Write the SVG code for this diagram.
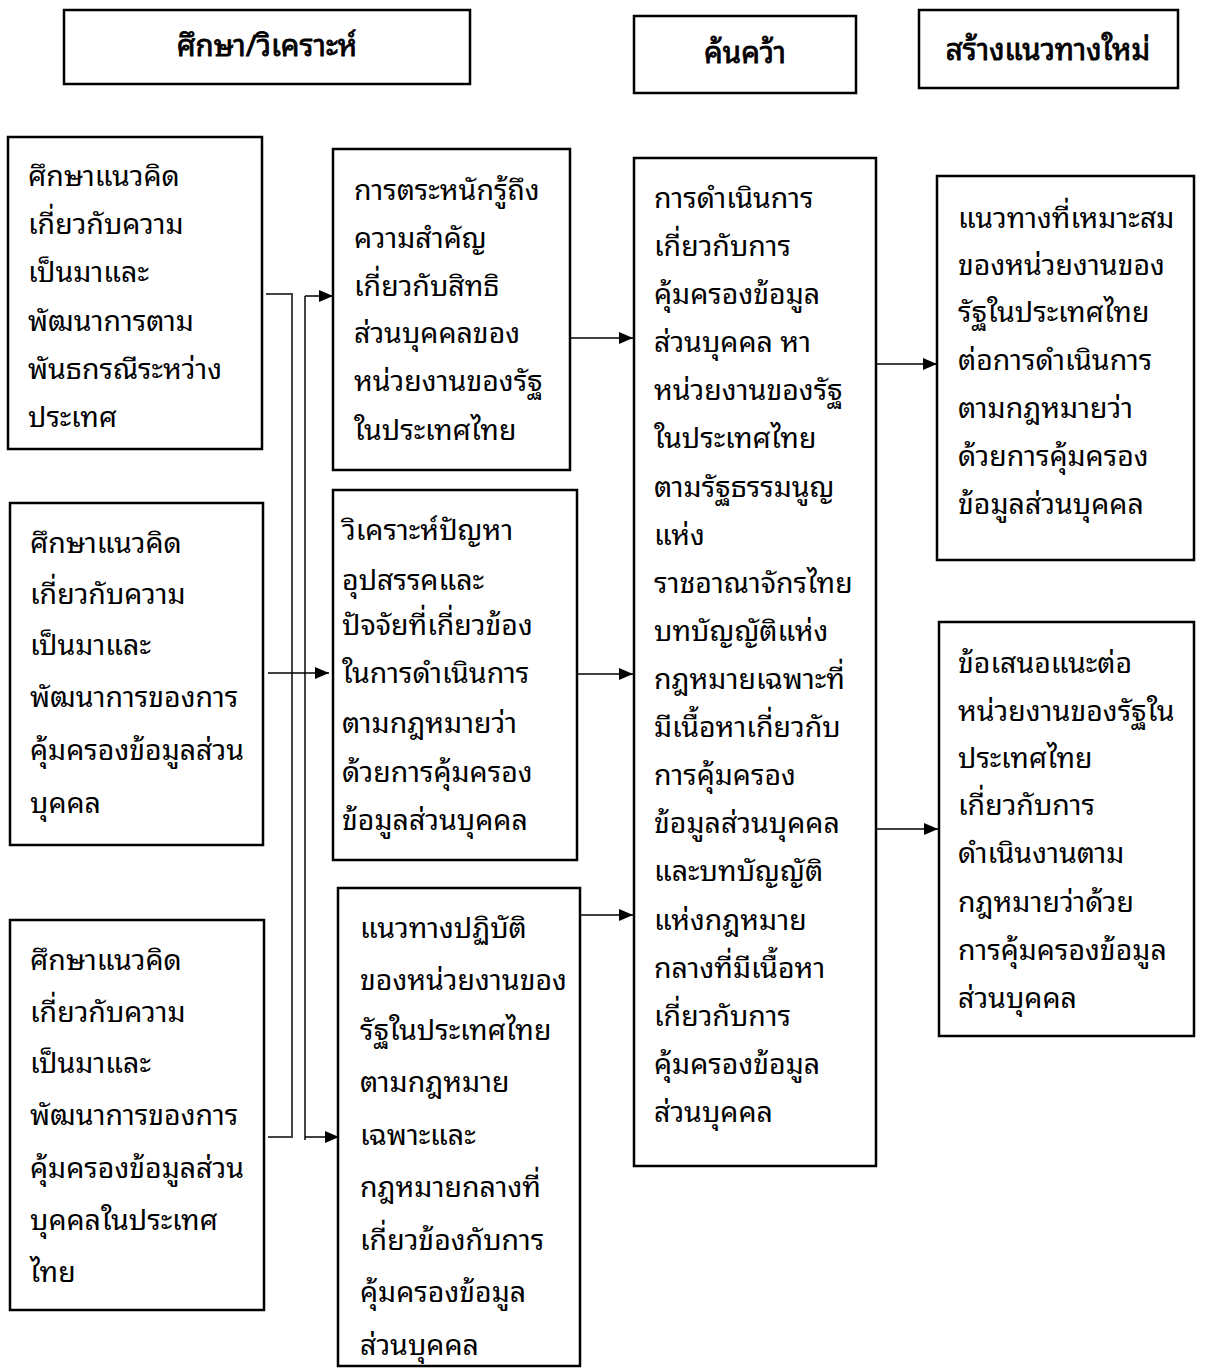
<svg xmlns="http://www.w3.org/2000/svg" width="1208" height="1370" viewBox="0 0 1208 1370">
<style>
.box{fill:#fff;stroke:#000;stroke-width:2.5}
.t{font-family:"Noto Sans Thai Looped","Noto Serif Thai","Loma","Garuda","Tlwg Typo","Noto Sans Thai","Noto Sans",sans-serif;font-size:28.5px;fill:#000}
.h{font-family:"Noto Sans Thai Looped","Noto Serif Thai","Loma","Garuda","Tlwg Typo","Noto Sans Thai","Noto Sans",sans-serif;font-size:29.5px;font-weight:normal;fill:#000;stroke:#000;stroke-width:0.8;text-anchor:middle}
.ln{fill:none;stroke:#000;stroke-width:1.5}
.ln2{fill:none;stroke:#444;stroke-width:2}
</style>
<defs>
<marker id="ar" markerWidth="14" markerHeight="12" refX="14" refY="6" orient="auto" markerUnits="userSpaceOnUse">
<path d="M0,0 L14,6 L0,12 Z" fill="#000"/>
</marker>
</defs>
<rect width="1208" height="1370" fill="#fff"/>
<g id="h1"><rect class="box" x="64" y="10" width="406" height="74"/><text class="h" x="267" y="56">ศึกษา/วิเคราะห์</text></g>
<g id="h2"><rect class="box" x="634" y="16" width="222" height="77"/><text class="h" x="745" y="63">ค้นคว้า</text></g>
<g id="h3"><rect class="box" x="919" y="10" width="259" height="78"/><text class="h" x="1048" y="60">สร้างแนวทางใหม่</text></g>

<g id="connectors">
<path class="ln2" d="M266,294 H292 V1137 H268"/>
<path class="ln2" d="M305,1140 V296"/>
<path class="ln" d="M305,296 H333" marker-end="url(#ar)"/>
<path class="ln" d="M268,673 H329" marker-end="url(#ar)"/>
<path class="ln" d="M305,1137 H339" marker-end="url(#ar)"/>
<path class="ln" d="M571,338 H633" marker-end="url(#ar)"/>
<path class="ln" d="M577,674 H633" marker-end="url(#ar)"/>
<path class="ln" d="M573,915 H633" marker-end="url(#ar)"/>
<path class="ln" d="M876,364 H937" marker-end="url(#ar)"/>
<path class="ln" d="M876,829 H938" marker-end="url(#ar)"/>
</g>

<g id="a1"><rect class="box" x="8" y="137" width="254" height="312"/>
<text class="t"><tspan x="28" y="186">ศึกษาแนวคิด</tspan><tspan x="28" y="234">เกี่ยวกับความ</tspan><tspan x="28" y="282">เป็นมาและ</tspan><tspan x="28" y="331">พัฒนาการตาม</tspan><tspan x="28" y="379">พันธกรณีระหว่าง</tspan><tspan x="28" y="427">ประเทศ</tspan></text></g>

<g id="a2"><rect class="box" x="10" y="503" width="253" height="342"/>
<text class="t"><tspan x="30" y="553">ศึกษาแนวคิด</tspan><tspan x="30" y="604">เกี่ยวกับความ</tspan><tspan x="30" y="655">เป็นมาและ</tspan><tspan x="30" y="707">พัฒนาการของการ</tspan><tspan x="30" y="760">คุ้มครองข้อมูลส่วน</tspan><tspan x="30" y="813">บุคคล</tspan></text></g>

<g id="a3"><rect class="box" x="10" y="920" width="254" height="390"/>
<text class="t"><tspan x="30" y="970">ศึกษาแนวคิด</tspan><tspan x="30" y="1022">เกี่ยวกับความ</tspan><tspan x="30" y="1073">เป็นมาและ</tspan><tspan x="30" y="1125">พัฒนาการของการ</tspan><tspan x="30" y="1178">คุ้มครองข้อมูลส่วน</tspan><tspan x="30" y="1230">บุคคลในประเทศ</tspan><tspan x="30" y="1282">ไทย</tspan></text></g>

<g id="m1"><rect class="box" x="333" y="149" width="237" height="321"/>
<text class="t"><tspan x="354" y="200">การตระหนักรู้ถึง</tspan><tspan x="354" y="248">ความสำคัญ</tspan><tspan x="354" y="296">เกี่ยวกับสิทธิ</tspan><tspan x="354" y="343">ส่วนบุคคลของ</tspan><tspan x="354" y="391">หน่วยงานของรัฐ</tspan><tspan x="354" y="440">ในประเทศไทย</tspan></text></g>

<g id="m2"><rect class="box" x="333" y="490" width="244" height="370"/>
<text class="t"><tspan x="342" y="540">วิเคราะห์ปัญหา</tspan><tspan x="342" y="590">อุปสรรคและ</tspan><tspan x="342" y="635">ปัจจัยที่เกี่ยวข้อง</tspan><tspan x="342" y="683">ในการดำเนินการ</tspan><tspan x="342" y="733">ตามกฎหมายว่า</tspan><tspan x="342" y="782">ด้วยการคุ้มครอง</tspan><tspan x="342" y="830">ข้อมูลส่วนบุคคล</tspan></text></g>

<g id="m3"><rect class="box" x="338" y="888" width="242" height="478"/>
<text class="t"><tspan x="360" y="938">แนวทางปฏิบัติ</tspan><tspan x="360" y="990">ของหน่วยงานของ</tspan><tspan x="360" y="1040">รัฐในประเทศไทย</tspan><tspan x="360" y="1092">ตามกฎหมาย</tspan><tspan x="360" y="1145">เฉพาะและ</tspan><tspan x="360" y="1197">กฎหมายกลางที่</tspan><tspan x="360" y="1250">เกี่ยวข้องกับการ</tspan><tspan x="360" y="1302">คุ้มครองข้อมูล</tspan><tspan x="360" y="1355">ส่วนบุคคล</tspan></text></g>

<g id="c1"><rect class="box" x="634" y="158" width="242" height="1008"/>
<text class="t"><tspan x="654" y="208">การดำเนินการ</tspan><tspan x="654" y="256">เกี่ยวกับการ</tspan><tspan x="654" y="304">คุ้มครองข้อมูล</tspan><tspan x="654" y="352">ส่วนบุคคล หา</tspan><tspan x="654" y="400">หน่วยงานของรัฐ</tspan><tspan x="654" y="448">ในประเทศไทย</tspan><tspan x="654" y="497">ตามรัฐธรรมนูญ</tspan><tspan x="654" y="545">แห่ง</tspan><tspan x="654" y="593">ราชอาณาจักรไทย</tspan><tspan x="654" y="641">บทบัญญัติแห่ง</tspan><tspan x="654" y="689">กฎหมายเฉพาะที่</tspan><tspan x="654" y="737">มีเนื้อหาเกี่ยวกับ</tspan><tspan x="654" y="785">การคุ้มครอง</tspan><tspan x="654" y="833">ข้อมูลส่วนบุคคล</tspan><tspan x="654" y="881">และบทบัญญัติ</tspan><tspan x="654" y="930">แห่งกฎหมาย</tspan><tspan x="654" y="978">กลางที่มีเนื้อหา</tspan><tspan x="654" y="1026">เกี่ยวกับการ</tspan><tspan x="654" y="1074">คุ้มครองข้อมูล</tspan><tspan x="654" y="1122">ส่วนบุคคล</tspan></text></g>

<g id="r1"><rect class="box" x="937" y="176" width="257" height="384"/>
<text class="t"><tspan x="958" y="228">แนวทางที่เหมาะสม</tspan><tspan x="958" y="275">ของหน่วยงานของ</tspan><tspan x="958" y="322">รัฐในประเทศไทย</tspan><tspan x="958" y="370">ต่อการดำเนินการ</tspan><tspan x="958" y="418">ตามกฎหมายว่า</tspan><tspan x="958" y="466">ด้วยการคุ้มครอง</tspan><tspan x="958" y="514">ข้อมูลส่วนบุคคล</tspan></text></g>

<g id="r2"><rect class="box" x="939" y="622" width="255" height="414"/>
<text class="t"><tspan x="958" y="673">ข้อเสนอแนะต่อ</tspan><tspan x="958" y="721">หน่วยงานของรัฐใน</tspan><tspan x="958" y="768">ประเทศไทย</tspan><tspan x="958" y="815">เกี่ยวกับการ</tspan><tspan x="958" y="863">ดำเนินงานตาม</tspan><tspan x="958" y="912">กฎหมายว่าด้วย</tspan><tspan x="958" y="960">การคุ้มครองข้อมูล</tspan><tspan x="958" y="1008">ส่วนบุคคล</tspan></text></g>
</svg>
